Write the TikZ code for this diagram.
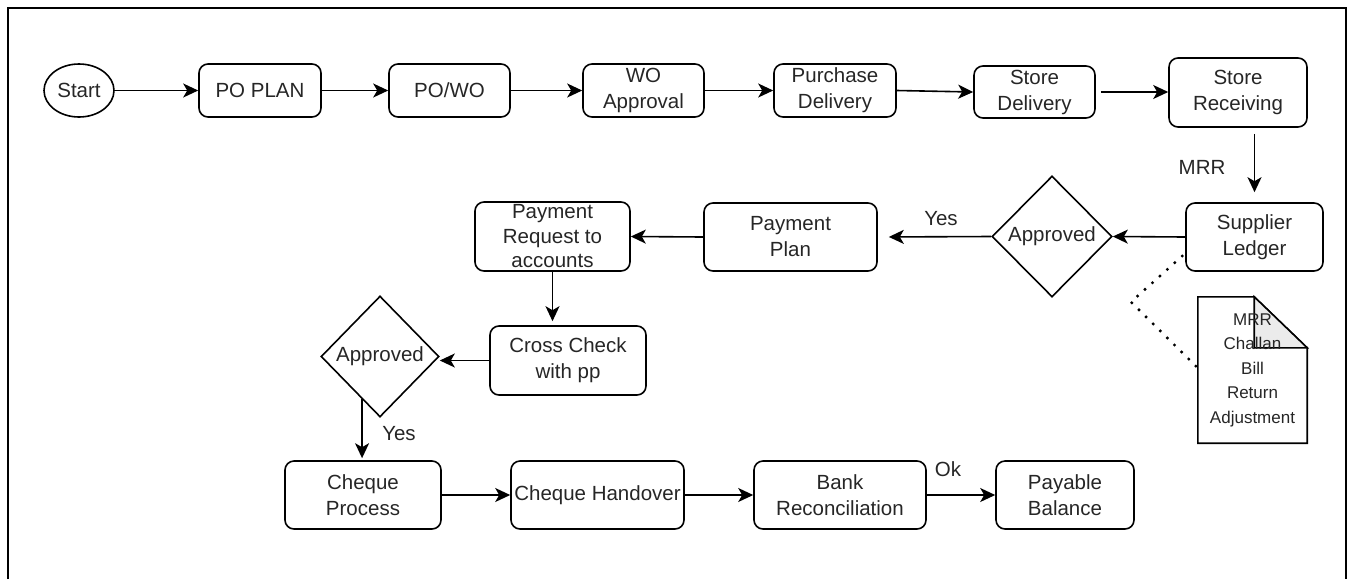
\documentclass[tikz,border=0pt]{standalone}
\usepackage{fontspec}
\setmainfont{Liberation Sans}
\usetikzlibrary{arrows.meta,shapes.geometric,backgrounds}
\definecolor{txt}{HTML}{262626}
\begin{document}
\begin{tikzpicture}[x=1pt,y=1pt,
  box/.style={draw, rounded corners=9pt, line width=1.6pt, align=center, inner sep=0pt,
    text=txt, font=\fontsize{20.5}{26}\selectfont},
  dia/.style={draw, diamond, aspect=1, inner sep=0pt, line width=1.6pt, text=txt,
    font=\fontsize{20.5}{26}\selectfont, minimum width=120pt, minimum height=121pt},
  arr/.style={-{Stealth[length=15pt,width=14pt,inset=4pt]}, line width=1.6pt},
  lbl/.style={text=txt, font=\fontsize{20.5}{26}\selectfont, inner sep=0pt},
  dotline/.style={line width=3.4pt, dash pattern=on 0pt off 10pt, line cap=round}
]
\useasboundingbox (0,0) rectangle (1348,-579);
% frame
\draw[line width=2.4pt] (8,-579) -- (8,-8) -- (1346,-8) -- (1346,-579);

% top row
\node[draw, ellipse, line width=1.6pt, inner sep=0pt, minimum width=70pt, minimum height=53pt,
  text=txt, font=\fontsize{20.5}{26}\selectfont] (start) at (79,-90.5) {Start};
\node[box, minimum width=122pt, minimum height=53pt] (poplan) at (260,-90.5) {PO PLAN};
\node[box, minimum width=121pt, minimum height=53pt] (powo) at (449.5,-90.5) {PO/WO};
\node[box, minimum width=121pt, minimum height=53pt] (woapp) at (643.5,-90.5) {WO\\Approval};
\node[box, minimum width=122pt, minimum height=53pt] (pdel) at (835,-90.5) {Purchase\\Delivery};
\node[box, minimum width=121pt, minimum height=52pt] (sdel) at (1034.5,-92) {Store\\Delivery};
\node[box, minimum width=138pt, minimum height=69pt] (srec) at (1238,-92.5) {Store\\Receiving};

% second row
\node[box, minimum width=137pt, minimum height=68pt] (sled) at (1254.5,-237) {Supplier\\Ledger};
\node[dia] (d1) at (1052,-236.5) {Approved};
\node[box, minimum width=173pt, minimum height=68pt] (pplan) at (790.5,-237) {Payment\\Plan};
\node[box, minimum width=155pt, minimum height=69pt, font=\fontsize{20.5}{24.5}\selectfont] (preq) at (552.5,-236.5) {Payment\\Request to\\accounts};

% third row
\node[box, minimum width=156pt, minimum height=69pt] (cc) at (568,-360.5) {Cross Check\\with pp};
\node[dia, minimum width=118pt] (d2) at (380,-356.5) {Approved};

% bottom row
\node[box, minimum width=156pt, minimum height=68pt] (cp) at (363,-495) {Cheque\\Process};
\node[box, minimum width=173pt, minimum height=68pt] (ch) at (597.5,-495) {Cheque Handover};
\node[box, minimum width=172pt, minimum height=68pt] (br) at (840,-495) {Bank\\Reconciliation};
\node[box, minimum width=138pt, minimum height=68pt] (pb) at (1065,-495) {Payable\\Balance};

% document
\node[minimum width=109pt, minimum height=146pt, inner sep=0pt, align=center, text=txt,
  font=\fontsize{17}{24.5}\selectfont] (doc) at (1252.5,-370) {MRR\\Challan\\Bill\\Return\\Adjustment};
\begin{pgfonlayer}{background}
\draw[line width=1.6pt, fill=white] (doc.south west) -- (doc.north west) -- ([xshift=-53pt]doc.north east)
  -- ([yshift=-51pt]doc.north east) -- (doc.south east) -- cycle;
\draw[line width=1.6pt, fill=black!8] ([xshift=-53pt]doc.north east) -- ([yshift=-51pt]doc.north east)
  -- ([xshift=-53pt,yshift=-51pt]doc.north east) -- cycle;
\end{pgfonlayer}

% connectors top row
\draw[arr] (start) -- (poplan);
\draw[arr] (poplan) -- (powo);
\draw[arr] (powo) -- (woapp);
\draw[arr] (woapp) -- (pdel);
\draw[arr] (pdel.east) -- (sdel.west);
\draw[arr, shorten <=5pt] (sdel.east) -- (sdel.east -| srec.west);
\draw[arr, shorten <=6pt, shorten >=10pt] (sled.north |- srec.south) -- (sled.north);
\node[lbl] (mrr) at (1202,-167) {MRR};

% second row
\draw[arr] (sled.west) -- (d1.east);
\draw[arr, shorten >=11pt] (d1.west) -- (pplan.east);
\node[lbl] (yes1) at (941,-219) {Yes};
\draw[arr] (pplan.west) -- (preq.east);
\draw[arr, shorten >=4pt] (preq.south) -- (preq.south |- cc.north);
\draw[arr] (cc.west) -- (d2.east |- cc.west);
\path (d2.west) -- (d2.south) coordinate[pos=0.7] (d2x);
\draw[arr, shorten >=2pt] (d2x) -- (d2x |- cp.north);
\node[lbl] (yes2) at (399,-434) {Yes};

% bottom row
\draw[arr] (cp) -- (ch);
\draw[arr] (ch) -- (br);
\draw[arr] (br) -- (pb);
\node[lbl] (ok) at (948,-469) {Ok};

% dotted association
\coordinate (dk) at (1131,-302);
\draw[dotline] ([shift={(-3pt,-19pt)}]sled.west) -- (dk) -- ([yshift=2pt]doc.west);
\end{tikzpicture}
\end{document}
